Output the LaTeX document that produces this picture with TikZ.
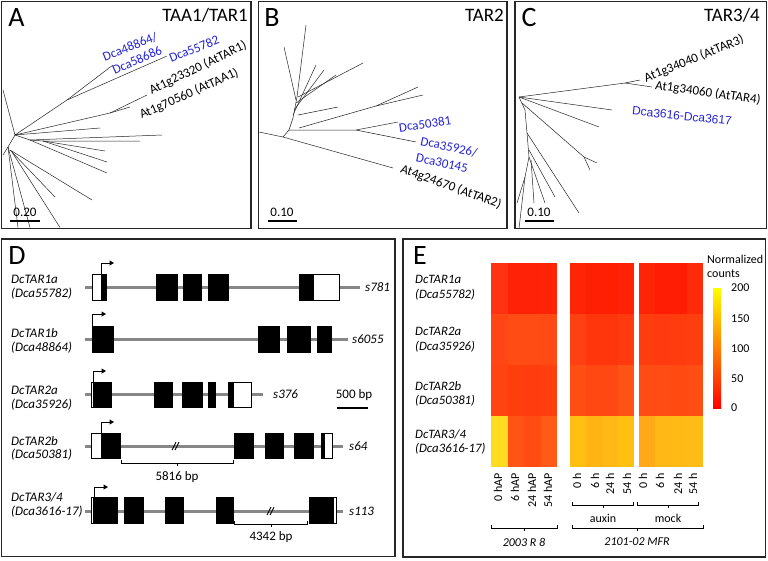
\documentclass[tikz,border=0pt]{standalone}
\usepackage{fontspec}
\setmainfont{Carlito}
\newfontfamily\arialf{Liberation Sans}
\usetikzlibrary{arrows.meta}
\definecolor{lblue}{RGB}{35,35,215}
\definecolor{gline}{RGB}{135,135,135}
\newcommand\hc[5]{\definecolor{tmpc}{HTML}{#5}\fill[tmpc] (#1,#2) rectangle (#3,#4);}
\newcommand\brk[2]{\draw[line width=0.9pt] (#1-3,#2+4) -- (#1+1,#2-4) (#1,#2+4) -- (#1+4,#2-4);}
\begin{document}
\begin{tikzpicture}[x=1pt,y=-1pt,
  frame/.style={draw=black!85,line width=1.3pt},
  tree/.style={line width=0.5pt,black!85},
  sbar/.style={line width=2.5pt},
  plet/.style={inner sep=0,font=\fontsize{28}{30}\selectfont},
  ptitle/.style={inner sep=0,font=\fontsize{19}{21}\selectfont,anchor=east},
  lbl/.style={inner sep=0,font=\fontsize{13}{15}\selectfont},
  gname/.style={inner sep=0,anchor=base west,font=\fontsize{13}{15}\selectfont\itshape},
  ename/.style={inner sep=0,anchor=base west,font=\fontsize{12.8}{14}\selectfont\itshape},
  sm/.style={inner sep=0,font=\fontsize{13}{15}\selectfont},
  smi/.style={inner sep=0,font=\fontsize{13}{15}\selectfont\itshape},
  hl/.style={inner sep=0,font=\fontsize{12}{14}\selectfont},
  exon/.style={fill=black,draw=black,line width=0.6pt},
  utr/.style={fill=white,draw=black,line width=0.8pt},
  gl/.style={gline,line width=3pt},
  tss/.style={line width=1pt,-{Triangle[length=4.5pt,width=5pt]}},
  brace/.style={line width=0.8pt}]
\useasboundingbox (0,0) rectangle (768,560);
\fill[white] (0,0) rectangle (768,560);
% ---------- frames
\draw[frame] (1.5,1.5) rectangle (251,228.5);
\draw[frame] (258.5,1.5) rectangle (507,228.5);
\draw[frame] (515,1.5) rectangle (766.5,228.5);
\draw[frame] (1.5,239) rectangle (395,556.5);
\draw[frame] (403,239) rectangle (765.5,557);
% ---------- panel A
\node[plet] (la) at (16.5,18) {A};
\node[ptitle] (ta) at (248,15) {TAA1/TAR1};
\draw[tree] (3,90) -- (15,135) -- (67,100) -- (113,65);
\draw[tree] (67,100) -- (167,56);
\draw[tree] (15,135) -- (110,113) -- (147,95);
\draw[tree] (110,113) -- (130,107);
\draw[tree] (15,135) -- (100,128);
\draw[tree] (15,135) -- (30,140) -- (162,135);
\draw[tree] (30,140) -- (43,141) -- (140,141);
\draw[tree] (43,141) -- (105,151);
\draw[tree] (43,141) -- (107,162);
\draw[tree] (30,140) -- (107,173);
\draw[tree] (15,135) -- (8,147) -- (3,155);
\draw[tree] (8,147) -- (18,227.5);
\draw[tree] (8,147) -- (30,227.5);
\draw[tree] (10,150) -- (55,197);
\draw[tree] (10,150) -- (92,200);
\draw[tree] (12,152) -- (60,227.5);
\node[lbl,text=lblue,rotate=22] (a1) at (130,47) {Dca48864/};
\node[lbl,text=lblue,rotate=24] (a2) at (137,60) {Dca58686};
\node[lbl,text=lblue,rotate=22] (a3) at (194,49) {Dca55782};
\node[lbl,rotate=26] (a4) at (198,68) {At1g23320 (AtTAR1)};
\node[lbl,rotate=24] (a5) at (189,94) {At1g70560 (AtTAA1)};
\node[lbl] (sa) at (25,212) {0.20};
\draw[sbar] (10,221) -- (40,221);
% ---------- panel B
\node[plet] (lb) at (272,18) {B};
\node[ptitle] (tb) at (504,15) {TAR2};
\draw[tree] (259,132) -- (283,137) -- (393,168);
\draw[tree] (283,137) -- (289,130) -- (293,118) -- (297,97) -- (306,25);
\draw[tree] (284,47) -- (296,100);
\draw[tree] (293,115) -- (316,65);
\draw[tree] (294,110) -- (324,70);
\draw[tree] (296,103) -- (336,75);
\draw[tree] (298,97) -- (363,63);
\draw[tree] (298,115) -- (338,107);
\draw[tree] (289,130) -- (356,130) -- (398,122);
\draw[tree] (356,130) -- (416,142);
\draw[tree] (299,128) -- (376,106) -- (418,87);
\draw[tree] (376,106) -- (423,95);
\node[lbl,text=lblue,rotate=8] (b1) at (425,124) {Dca50381};
\node[lbl,text=lblue,rotate=-12] (b2) at (449,147) {Dca35926/};
\node[lbl,text=lblue,rotate=-12] (b3) at (442,163) {Dca30145};
\node[lbl,rotate=-20] (b4) at (451,187) {At4g24670 (AtTAR2)};
\node[lbl] (sb) at (282,212) {0.10};
\draw[sbar] (268,221) -- (297,221);
% ---------- panel C
\node[plet] (lc) at (529,18) {C};
\node[ptitle] (tc) at (760,15) {TAR3/4};
\draw[tree] (519,97) -- (625,83) -- (640,80);
\draw[tree] (625,83) -- (652,87);
\draw[tree] (519,97) -- (612,110);
\draw[tree] (519,97) -- (599,127);
\draw[tree] (519,97) -- (525,110) -- (527,133) -- (529,157) -- (525,177) -- (517,203);
\draw[tree] (525,177) -- (519,228.5);
\draw[tree] (522,103) -- (584,157) -- (597,163);
\draw[tree] (584,157) -- (590,170);
\draw[tree] (527,133) -- (579,213);
\draw[tree] (529,150) -- (555,197);
\draw[tree] (529,157) -- (545,203);
\draw[tree] (531,160) -- (534,203);
\node[lbl,rotate=22] (c1) at (694,59) {At1g34040 (AtTAR3)};
\node[lbl,rotate=-8] (c2) at (708,93) {At1g34060 (AtTAR4)};
\node[lbl,text=lblue,rotate=-6,font=\fontsize{12}{14}\arialf] (c3) at (682,116) {Dca3616-Dca3617};
\node[lbl] (sc) at (539,212) {0.10};
\draw[sbar] (525,221) -- (554,221);
% ---------- panel D
\node[plet] (ld) at (17,256) {D};
\node[gname] (g1) at (11,283) {DcTAR1a};
\node[gname] (g1b) at (11,297) {(Dca55782)};
\node[gname] (g2) at (11,337) {DcTAR1b};
\node[gname] (g2b) at (11,351) {(Dca48864)};
\node[gname] (g3) at (11,394) {DcTAR2a};
\node[gname] (g3b) at (11,408) {(Dca35926)};
\node[gname] (g4) at (11,445) {DcTAR2b};
\node[gname] (g4b) at (11,458) {(Dca50381)};
\node[gname] (g5) at (11,501) {DcTAR3/4};
\node[gname] (g5b) at (11,515) {(Dca3616-17)};
% row 1
\draw[gl] (85,287) -- (360,287);
\draw[utr] (92,274) rectangle (101,300);
\draw[exon] (101,274) rectangle (106,300);
\draw[exon] (156,274) rectangle (177,300);
\draw[exon] (183,274) rectangle (201,300);
\draw[exon] (208,274) rectangle (228,300);
\draw[exon] (299,274) rectangle (313,300);
\draw[utr] (313,274) rectangle (339,300);
\draw[tss] (101,274) -- (101,263) -- (114,263);
\node[smi,anchor=west] (s1) at (365,287) {s781};
% row 2
\draw[gl] (85,339) -- (348,339);
\draw[exon] (92,326) rectangle (113,352);
\draw[exon] (258,326) rectangle (279,352);
\draw[exon] (287,326) rectangle (310,352);
\draw[exon] (317,326) rectangle (331,352);
\draw[tss] (92,326) -- (92,314) -- (106,314);
\node[smi,anchor=west] (s2) at (352,339) {s6055};
% row 3
\draw[gl] (85,394) -- (263,394);
\draw[utr] (91,382) rectangle (93,407);
\draw[exon] (93,382) rectangle (111,407);
\draw[exon] (154,382) rectangle (172,407);
\draw[exon] (182,382) rectangle (202,407);
\draw[exon] (208,382) rectangle (215,407);
\draw[exon] (228,382) rectangle (233,407);
\draw[utr] (233,382) rectangle (251,407);
\draw[tss] (93,382) -- (93,371) -- (106,371);
\node[smi,anchor=west] (s3) at (273,394) {s376};
\node[sm] (sbp) at (354,395) {500 bp};
\draw[line width=2.5pt] (337,408) -- (368,408);
% row 4
\draw[gl] (85,446) -- (343,446);
\draw[utr] (91,433) rectangle (101,458);
\draw[exon] (101,433) rectangle (120,458);
\draw[exon] (234,433) rectangle (253,458);
\draw[exon] (265,433) rectangle (283,458);
\draw[exon] (294,433) rectangle (313,458);
\draw[exon] (321,433) rectangle (324,458);
\draw[utr] (324,433) rectangle (332,458);
\draw[tss] (101,433) -- (101,422) -- (114,422);
\brk{175}{446}
\draw[brace] (121,460) -- (121,463) -- (233,463) -- (233,460) (177,463) -- (177,466);
\node[sm] (bp1) at (177,477) {5816 bp};
\node[smi,anchor=west] (s4) at (349,446) {s64};
% row 5
\draw[gl] (85,511) -- (343,511);
\draw[utr] (91,497) rectangle (93,523);
\draw[exon] (93,497) rectangle (117,523);
\draw[exon] (124,497) rectangle (143,523);
\draw[exon] (165,497) rectangle (183,523);
\draw[exon] (216,497) rectangle (233,523);
\draw[exon] (309,497) rectangle (333,523);
\draw[utr] (333,497) rectangle (336,523);
\draw[tss] (94,497) -- (94,487) -- (108,487);
\brk{270}{511}
\draw[brace] (234,521) -- (234,524) -- (307,524) -- (307,521) (271,524) -- (271,527);
\node[sm] (bp2) at (271,537) {4342 bp};
\node[smi,anchor=west] (s5) at (349,511) {s113};
% ---------- panel E
\node[plet] (le) at (420,256) {E};
\node[ename] (e1) at (415,283) {DcTAR1a};
\node[ename] (e1b) at (415,298) {(Dca55782)};
\node[ename] (e2) at (415,335) {DcTAR2a};
\node[ename] (e2b) at (415,350) {(Dca35926)};
\node[ename] (e3) at (415,390) {DcTAR2b};
\node[ename] (e3b) at (415,404) {(Dca50381)};
\node[ename] (e4) at (415,438) {DcTAR3/4};
\node[ename] (e4b) at (415,452) {(Dca3616-17)};
% heatmap row 1
\hc{491}{263}{507.8}{314.3}{FF3212}
\hc{507.5}{263}{524.3}{314.3}{FF2206}
\hc{524}{263}{540.8}{314.3}{FF2206}
\hc{540.5}{263}{557}{314.3}{FF2406}
\hc{570}{263}{586.3}{314.3}{FF2406}
\hc{586}{263}{602.3}{314.3}{FF2004}
\hc{602}{263}{618.3}{314.3}{FF2004}
\hc{618}{263}{634}{314.3}{FF2206}
\hc{639}{263}{655.3}{314.3}{FF2406}
\hc{655}{263}{671.3}{314.3}{FF1E04}
\hc{671}{263}{687.3}{314.3}{FF1E04}
\hc{687}{263}{703}{314.3}{FF2A0A}
% row 2
\hc{491}{314}{507.8}{365.3}{FF4614}
\hc{507.5}{314}{524.3}{365.3}{FF4C14}
\hc{524}{314}{540.8}{365.3}{FF4C14}
\hc{540.5}{314}{557}{365.3}{FF4A14}
\hc{570}{314}{586.3}{365.3}{FF4012}
\hc{586}{314}{602.3}{365.3}{FF360C}
\hc{602}{314}{618.3}{365.3}{FF360C}
\hc{618}{314}{634}{365.3}{FF3A0E}
\hc{639}{314}{655.3}{365.3}{FF3C0E}
\hc{655}{314}{671.3}{365.3}{FF3A0E}
\hc{671}{314}{687.3}{365.3}{FF3C0E}
\hc{687}{314}{703}{365.3}{FF3E10}
% row 3
\hc{491}{365}{507.8}{416.3}{FF4412}
\hc{507.5}{365}{524.3}{416.3}{FF3E0E}
\hc{524}{365}{540.8}{416.3}{FF3C0E}
\hc{540.5}{365}{557}{416.3}{FF400E}
\hc{570}{365}{586.3}{416.3}{FF4E14}
\hc{586}{365}{602.3}{416.3}{FF4812}
\hc{602}{365}{618.3}{416.3}{FF4812}
\hc{618}{365}{634}{416.3}{FF5216}
\hc{639}{365}{655.3}{416.3}{FF4C14}
\hc{655}{365}{671.3}{416.3}{FF4C14}
\hc{671}{365}{687.3}{416.3}{FF4A12}
\hc{687}{365}{703}{416.3}{FF4E14}
% row 4
\hc{491}{416}{507.8}{467}{FFDC20}
\hc{507.5}{416}{524.3}{467}{FF5414}
\hc{524}{416}{540.8}{467}{FF4C10}
\hc{540.5}{416}{557}{467}{FF5A16}
\hc{570}{416}{586.3}{467}{FFC010}
\hc{586}{416}{602.3}{467}{FFB414}
\hc{602}{416}{618.3}{467}{FFB816}
\hc{618}{416}{634}{467}{FFC012}
\hc{639}{416}{655.3}{467}{FFA818}
\hc{655}{416}{671.3}{467}{FFB816}
\hc{671}{416}{687.3}{467}{FFBA16}
\hc{687}{416}{703}{467}{FFBC16}
% colorbar
\shade[bottom color=red,top color=yellow,middle color={rgb,255:red,255;green,128;blue,0}] (713,288) rectangle (721,408);
\node[hl,anchor=west] (n1) at (707,259) {Normalized};
\node[hl,anchor=west] (n2) at (707,274) {counts};
\node[hl,anchor=west] (v200) at (731,288) {200};
\node[hl,anchor=west] (v150) at (731,319) {150};
\node[hl,anchor=west] (v100) at (731,349) {100};
\node[hl,anchor=west] (v50) at (731,379) {50};
\node[hl,anchor=west] (v0) at (731,408) {0};
% column labels
\foreach \x/\t in {498/0 hAP,515/6 hAP,532/24 hAP,548/54 hAP,577/0 h,595/6 h,610/24 h,627/54 h,643/0 h,660/6 h,678/24 h,693/54 h}
  \node[hl,rotate=90,anchor=east] at (\x,473) {\t};
\draw[brace] (572,502) -- (572,505) -- (633,505) -- (633,502) (603,505) -- (603,508);
\draw[brace] (637,502) -- (637,505) -- (698,505) -- (698,502) (668,505) -- (668,508);
\node[hl] (aux) at (603,518) {auxin};
\node[hl] (mck) at (668,518) {mock};
\draw[brace] (491,525) -- (491,528) -- (557,528) -- (557,525) (524,528) -- (524,531);
\draw[brace] (572,525) -- (572,528) -- (703,528) -- (703,525) (637,528) -- (637,531);
\node[hl,font=\fontsize{12}{14}\selectfont\itshape] (gr1) at (524,542) {2003 R 8};
\node[hl,font=\fontsize{12}{14}\selectfont\itshape] (gr2) at (637,542) {2101-02 MFR};
\end{tikzpicture}
\end{document}
